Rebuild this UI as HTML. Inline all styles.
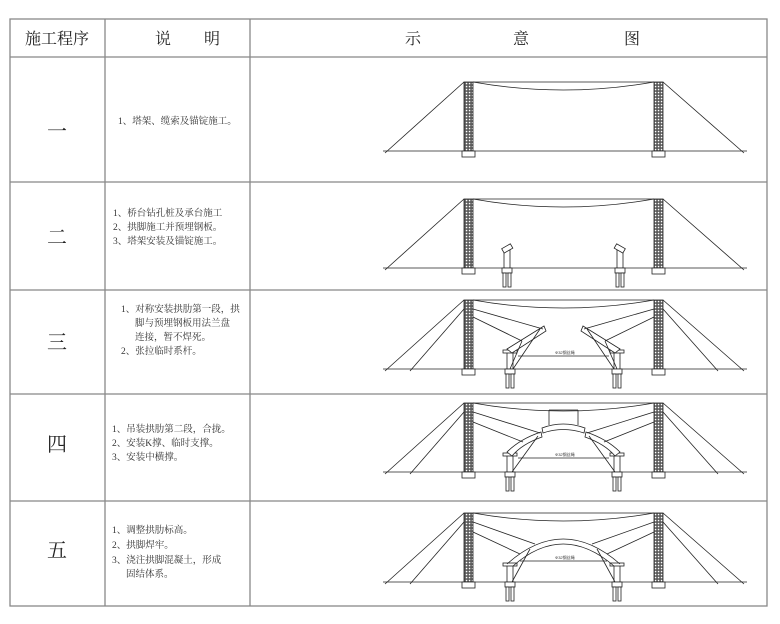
<!DOCTYPE html>
<html><head><meta charset="utf-8"><style>
html,body{margin:0;padding:0;background:#fff;}
svg{display:block;}
.h{font-family:"Liberation Serif","Noto Serif CJK SC",serif;font-size:16px;fill:#222;}
.n{font-family:"Liberation Serif","Noto Serif CJK SC",serif;font-size:20px;fill:#222;}
.t{font-family:"Liberation Serif","Noto Serif CJK SC",serif;font-size:9.5px;fill:#333;}
.s{font-family:"Liberation Sans",sans-serif;font-size:4px;fill:#333;}
</style></head><body>
<svg width="780" height="624" viewBox="0 0 780 624" xmlns="http://www.w3.org/2000/svg">
<defs>
<pattern id="lat" width="3" height="3" patternUnits="userSpaceOnUse">
<rect width="3" height="3" fill="#555"/><rect x="0.8" y="0.8" width="1.5" height="1.5" fill="#fff"/>
</pattern>
<g id="base" fill="none" stroke="#222" stroke-width="0.8">
<line x1="383" y1="0" x2="747" y2="0"/>
<rect x="464" y="-69" width="9" height="69" fill="url(#lat)" stroke="#222"/>
<rect x="654" y="-69" width="9" height="69" fill="url(#lat)" stroke="#222"/>
<rect x="462" y="0" width="13" height="6" fill="#fff"/>
<rect x="652" y="0" width="13" height="6" fill="#fff"/>
<line x1="464" y1="-69" x2="385" y2="2"/>
<line x1="663" y1="-69" x2="744" y2="2"/>
<line x1="473" y1="-69" x2="654" y2="-69"/>
<path d="M473,-69 Q563,-53 654,-69"/>
</g>
<g id="pier" fill="#fff" stroke="#222" stroke-width="0.8">
<rect x="-5" y="0" width="10" height="5"/>
<rect x="-4" y="5" width="3" height="14"/><rect x="1" y="5" width="3" height="14"/>
</g>
<g id="pier2" fill="#fff" stroke="#222" stroke-width="0.8">
<rect x="-3" y="-17" width="6" height="17"/>
<rect x="-7" y="-19" width="14" height="3"/>
<use href="#pier"/>
</g>
<g id="extra" fill="none" stroke="#222" stroke-width="0.8">
<line x1="464" y1="-60" x2="410" y2="2"/>
<line x1="663" y1="-60" x2="718" y2="2"/>
</g>
</defs>

<g stroke="#888" stroke-width="1.3" fill="none">
<rect x="10" y="19" width="757" height="587"/>
<line x1="105" y1="19" x2="105" y2="606"/>
<line x1="250" y1="19" x2="250" y2="606"/>
<line x1="10" y1="57" x2="767" y2="57"/>
<line x1="10" y1="182" x2="767" y2="182"/>
<line x1="10" y1="290" x2="767" y2="290"/>
<line x1="10" y1="394" x2="767" y2="394"/>
<line x1="10" y1="501" x2="767" y2="501"/>
</g>
<text class="h" x="57" y="44" text-anchor="middle">施工程序</text>
<text class="h" x="155" y="44">说</text><text class="h" x="204" y="44">明</text>
<text class="h" x="405" y="44">示</text><text class="h" x="513" y="44">意</text><text class="h" x="624" y="44">图</text>

<text class="n" x="57" y="138" text-anchor="middle">一</text>
<text class="n" x="57" y="244" text-anchor="middle">二</text>
<text class="n" x="57" y="349" text-anchor="middle">三</text>
<text class="n" x="57" y="451" text-anchor="middle">四</text>
<text class="n" x="57" y="557" text-anchor="middle">五</text>

<text class="t" x="118" y="124">1、塔架、缆索及锚锭施工。</text>
<text class="t" x="113" y="216">1、桥台钻孔桩及承台施工</text>
<text class="t" x="113" y="230">2、拱脚施工并预埋钢板。</text>
<text class="t" x="113" y="244">3、塔架安装及锚锭施工。</text>
<text class="t" x="121" y="312">1、对称安装拱肋第一段，拱</text>
<text class="t" x="135" y="326">脚与预埋钢板用法兰盘</text>
<text class="t" x="135" y="340">连接，暂不焊死。</text>
<text class="t" x="121" y="354">2、张拉临时系杆。</text>
<text class="t" x="112" y="432">1、吊装拱肋第二段，合拢。</text>
<text class="t" x="112" y="446">2、安装K撑、临时支撑。</text>
<text class="t" x="112" y="460">3、安装中横撑。</text>
<text class="t" x="112" y="533">1、调整拱肋标高。</text>
<text class="t" x="112" y="548">2、拱脚焊牢。</text>
<text class="t" x="112" y="563">3、浇注拱脚混凝土，形成</text>
<text class="t" x="126" y="577">固结体系。</text>

<g transform="translate(0,151)"><use href="#base"/></g>

<g transform="translate(0,268)">
<use href="#base"/>
<g fill="#fff" stroke="#222" stroke-width="0.8">
<rect x="504" y="-18" width="6" height="18"/>
<rect x="502" y="-22" width="10" height="5" transform="rotate(-30 507 -20)"/>
<rect x="617" y="-18" width="6" height="18"/>
<rect x="615" y="-22" width="10" height="5" transform="rotate(30 620 -20)"/>
</g>
<use href="#pier" transform="translate(507,0)"/>
<use href="#pier" transform="translate(620,0)"/>
</g>

<g transform="translate(0,369)">
<use href="#base"/><use href="#extra"/>
<use href="#pier2" transform="translate(510,0)"/>
<use href="#pier2" transform="translate(617,0)"/>
<g fill="none" stroke="#222" stroke-width="0.8">
<path d="M507,-20 L544,-43 L546,-38 L512,-16 Z" fill="#fff"/>
<path d="M620,-20 L583,-43 L581,-38 L615,-16 Z" fill="#fff"/>
<line x1="473" y1="-60" x2="543" y2="-40"/>
<line x1="473" y1="-52" x2="522" y2="-28"/>
<line x1="654" y1="-60" x2="584" y2="-40"/>
<line x1="654" y1="-52" x2="605" y2="-28"/>
<line x1="540" y1="-40" x2="513" y2="0"/>
<line x1="522" y1="-28" x2="510" y2="0"/>
<line x1="587" y1="-40" x2="614" y2="0"/>
<line x1="605" y1="-28" x2="617" y2="0"/>
<line x1="518" y1="-13" x2="609" y2="-13"/>
</g>
<text class="s" x="555" y="-15">Φ32钢丝绳</text>
</g>

<g transform="translate(0,472)">
<use href="#base"/><use href="#extra"/>
<use href="#pier2" transform="translate(510,0)"/>
<use href="#pier2" transform="translate(617,0)"/>
<g fill="none" stroke="#222" stroke-width="0.8">
<path d="M507,-20 Q520,-33 541,-40 L542,-35 Q522,-28 512,-16 Z" fill="#fff"/>
<path d="M620,-20 Q607,-33 586,-40 L585,-35 Q605,-28 615,-16 Z" fill="#fff"/>
<path d="M542,-44 Q563,-52 585,-44 L584,-39 Q563,-46 543,-39 Z" fill="#fff"/>
<line x1="549" y1="-62" x2="549" y2="-47"/>
<line x1="578" y1="-62" x2="578" y2="-47"/>
<line x1="549" y1="-62" x2="578" y2="-62"/>
<line x1="473" y1="-60" x2="540" y2="-39"/>
<line x1="473" y1="-50" x2="523" y2="-30"/>
<line x1="654" y1="-60" x2="587" y2="-39"/>
<line x1="654" y1="-50" x2="604" y2="-30"/>
<line x1="538" y1="-36" x2="512" y2="0"/>
<line x1="589" y1="-36" x2="615" y2="0"/>
<line x1="518" y1="-14" x2="609" y2="-14"/>
</g>
<text class="s" x="555" y="-16">Φ32钢丝绳</text>
</g>

<g transform="translate(0,582)">
<use href="#base"/><use href="#extra"/>
<use href="#pier2" transform="translate(510,0)"/>
<use href="#pier2" transform="translate(617,0)"/>
<g fill="none" stroke="#222" stroke-width="0.8">
<path d="M507,-18 Q563,-68 620,-18"/>
<path d="M513,-16 Q563,-60 614,-16"/>
<line x1="473" y1="-60" x2="535" y2="-38"/>
<line x1="473" y1="-50" x2="520" y2="-28"/>
<line x1="654" y1="-60" x2="592" y2="-38"/>
<line x1="654" y1="-50" x2="607" y2="-28"/>
<line x1="530" y1="-33" x2="512" y2="0"/>
<line x1="597" y1="-33" x2="615" y2="0"/>
<line x1="520" y1="-21" x2="607" y2="-21"/>
</g>
<text class="s" x="555" y="-23">Φ32钢丝绳</text>
</g>
</svg>
</body></html>
